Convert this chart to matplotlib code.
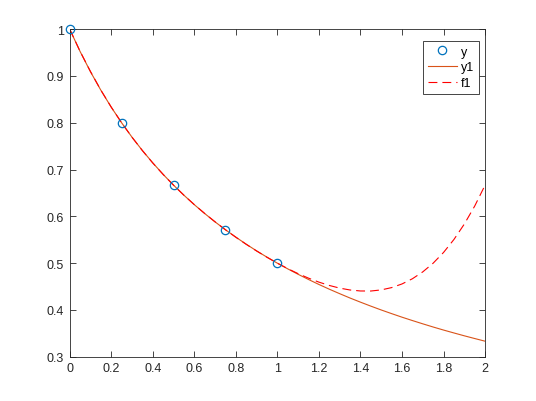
import matplotlib
matplotlib.use("Agg")
import matplotlib.pyplot as plt

# data points
x_pts = [0, 0.25, 0.5, 0.75, 1.0]
y_pts = [1.0, 0.8, 0.6667, 0.5714, 0.5]

# curve samples
x_curve = [0.0, 0.05, 0.1, 0.15, 0.2, 0.25, 0.3, 0.35, 0.4, 0.45, 0.5,
           0.55, 0.6, 0.65, 0.7, 0.75, 0.8, 0.85, 0.9, 0.95, 1.0,
           1.05, 1.1, 1.15, 1.2, 1.25, 1.3, 1.35, 1.4, 1.45, 1.5,
           1.55, 1.6, 1.65, 1.7, 1.75, 1.8, 1.85, 1.9, 1.95, 2.0]
y1_vals = [1.0, 0.9524, 0.9091, 0.8696, 0.8333, 0.8, 0.7692, 0.7407, 0.7143, 0.6897, 0.6667,
           0.6452, 0.625, 0.6061, 0.5882, 0.5714, 0.5556, 0.5405, 0.5263, 0.5128, 0.5,
           0.4878, 0.4762, 0.4651, 0.4545, 0.4444, 0.4348, 0.4255, 0.4167, 0.4082, 0.4,
           0.3922, 0.3846, 0.3774, 0.3704, 0.3636, 0.3571, 0.3509, 0.3448, 0.339, 0.3333]
f1_vals = [1.0, 0.9527, 0.9096, 0.8698, 0.8335, 0.8, 0.7691, 0.7406, 0.7141, 0.6896, 0.6667,
           0.6452, 0.6251, 0.6062, 0.5883, 0.5714, 0.5554, 0.5403, 0.5260, 0.5126, 0.5,
           0.4883, 0.4776, 0.4680, 0.4595, 0.4524, 0.4467, 0.4427, 0.4406, 0.4405, 0.4429,
           0.4478, 0.4556, 0.4667, 0.4814, 0.5, 0.5229, 0.5506, 0.5835, 0.6220, 0.6667]

xticks = [0, 0.2, 0.4, 0.6, 0.8, 1, 1.2, 1.4, 1.6, 1.8, 2]
xtick_labels = ["0", "0.2", "0.4", "0.6", "0.8", "1", "1.2", "1.4", "1.6", "1.8", "2"]
yticks = [0.3, 0.4, 0.5, 0.6, 0.7, 0.8, 0.9, 1.0]
ytick_labels = ["0.3", "0.4", "0.5", "0.6", "0.7", "0.8", "0.9", "1"]

plt.rcParams['font.family'] = ['Liberation Sans', 'DejaVu Sans']

fig = plt.figure(figsize=(5.36, 4.02), dpi=100)
ax = fig.add_axes([0.13, 0.11, 0.775, 0.815])

ax.plot(x_pts, y_pts, 'o', markerfacecolor='none', markeredgecolor=(0, 0.447, 0.741),
        markersize=6, markeredgewidth=0.9, label='y', zorder=3, clip_on=False)
ax.plot(x_curve, y1_vals, '-', color=(0.85, 0.325, 0.098), linewidth=0.8, label='y1')
ax.plot(x_curve, f1_vals, '--', color=(1, 0, 0), linewidth=0.8, dashes=(8, 4.5), label='f1')

ax.set_xlim(0, 2)
ax.set_ylim(0.3, 1.0)
ax.set_xticks(xticks)
ax.set_xticklabels(xtick_labels)
ax.set_yticks(yticks)
ax.set_yticklabels(ytick_labels)
ax.tick_params(direction='in', length=4, width=0.6, labelsize=9, colors='#262626',
               top=True, right=True, labeltop=False, labelright=False, pad=4)
for s in ax.spines.values():
    s.set_linewidth(0.6)
    s.set_color('#262626')

leg = ax.legend(loc='upper right', bbox_to_anchor=(0.985, 0.965), fontsize=9,
                fancybox=False, edgecolor='#262626', framealpha=1,
                handlelength=2.3, borderpad=0.4, labelspacing=0.3, handletextpad=0.3,
                borderaxespad=0)
leg.get_frame().set_linewidth(0.6)

fig.savefig('out.png', dpi=100)
